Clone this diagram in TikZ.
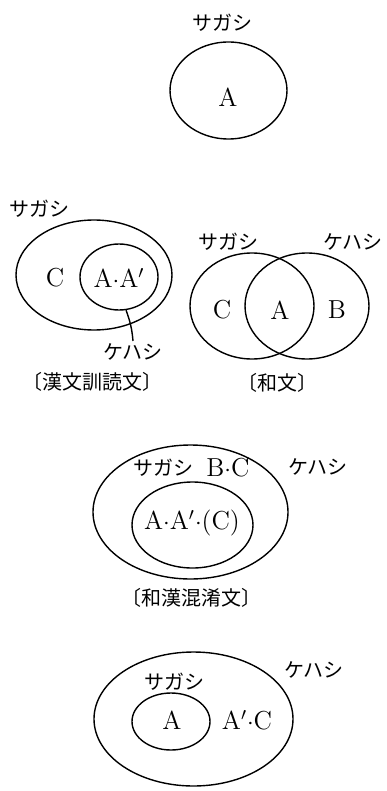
\documentclass[tikz,border=0pt]{standalone}
\usepackage{fontspec}
\newfontfamily\jp{Noto Sans CJK JP}
\usetikzlibrary{shapes.geometric}
\begin{document}
\begin{tikzpicture}[x=0.5pt, y=-0.5pt, line width=0.7pt,
    set/.style={ellipse, draw, inner sep=0pt},
    kana/.style={font=\jp\fontsize{10}{12}\selectfont, inner sep=1pt},
    sym/.style={font=\fontsize{13}{15}\selectfont, inner sep=1pt}]
    \useasboundingbox (0,0) rectangle (386,791);
    % A alone
    \node[kana] (sg1) at (222, 23) {サガシ};
    \node[set, minimum width=58.5pt, minimum height=48.5pt] (e1) at (228.5, 90.5) {};
    \node[sym] (a1) at (228, 97) {A};
    % Kanbun kundoku
    \node[kana] (sg2) at (40, 209) {サガシ};
    \node[set, minimum width=78pt, minimum height=55pt] (e2out) at (94, 275) {};
    \node[set, minimum width=39pt, minimum height=33pt] (e2in) at (119, 277) {};
    \node[sym] (c2) at (55, 278) {C};
    \node[sym] (aa2) at (119, 278) {A$\cdot$A$'$};
    \node[kana] (kh2) at (133, 352) {ケハシ};
    \node[kana] (t2) at (92, 382) {〔漢文訓読文〕};
    \draw (e2in.-78) to[out=-70, in=95] (kh2.north);
    % Wabun
    \node[kana] (sg3) at (228, 242) {サガシ};
    \node[kana] (kh3) at (353, 242) {ケハシ};
    \node[set, minimum width=62pt, minimum height=53pt] (e3l) at (252, 306) {};
    \node[set, minimum width=62pt, minimum height=53pt] (e3r) at (307, 306) {};
    \node[sym] (c3) at (222, 310) {C};
    \node[sym] (a3) at (280, 310) {A};
    \node[sym] (b3) at (337, 310) {B};
    \node[kana] (t3) at (277, 383) {〔和文〕};
    % Wakan konkou
    \node[set, minimum width=97.5pt, minimum height=67pt] (e4out) at (190.5, 512) {};
    \node[set, minimum width=60.5pt, minimum height=43pt] (e4in) at (192.5, 525) {};
    \node[kana] (sg4) at (163, 468) {サガシ};
    \node[sym] (bc4) at (228, 468) {B$\cdot$C};
    \node[kana] (kh4) at (318, 467) {ケハシ};
    \node[sym] (aac4) at (192, 523) {A$\cdot$A$'$$\cdot$(C)};
    \node[kana] (t4) at (191, 598) {〔和漢混淆文〕};
    % last one
    \node[set, minimum width=99.5pt, minimum height=67pt] (e5out) at (193.5, 719) {};
    \node[set, minimum width=39pt, minimum height=28.5pt] (e5in) at (171, 721.5) {};
    \node[kana] (sg5) at (174, 682) {サガシ};
    \node[sym] (a5) at (172, 720) {A};
    \node[sym] (ac5) at (247, 720) {A$'$$\cdot$C};
    \node[kana] (kh5) at (314, 670) {ケハシ};
\end{tikzpicture}
\end{document}
